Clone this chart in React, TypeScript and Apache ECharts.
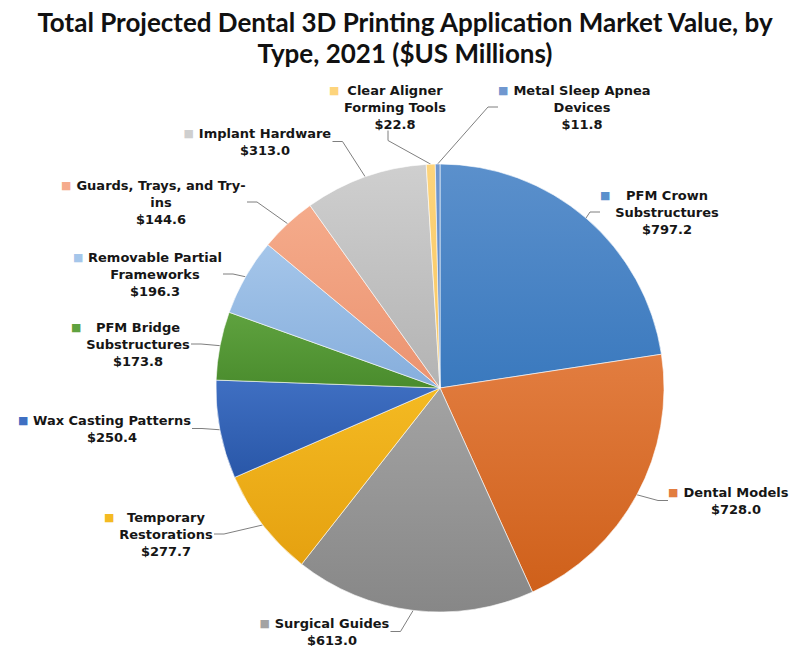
import React, { useEffect, useRef } from 'react';
import * as echarts from 'echarts';

const titleLines = ['Total Projected Dental 3D Printing Application Market Value, by', 'Type, 2021 ($US Millions)'];

const categories = [
  'PFM Crown\nSubstructures',
  'Dental Models',
  'Surgical Guides',
  'Temporary\nRestorations',
  'Wax Casting Patterns',
  'PFM Bridge\nSubstructures',
  'Removable Partial\nFrameworks',
  'Guards, Trays, and Try-\nins',
  'Implant Hardware',
  'Clear Aligner\nForming Tools',
  'Metal Sleep Apnea\nDevices',
];

const values = [797.2, 728.0, 613.0, 277.7, 250.4, 173.8, 196.3, 144.6, 313.0, 22.8, 11.8];

const topColors = ['#5b90cc', '#e27d40', '#a3a3a3', '#f4ba22', '#3f6fc2', '#5fa23f', '#a5c6ea', '#f5ab8b', '#cfcfcf', '#fdd47c', '#7097cf'];
const bottomColors = ['#3a79be', '#cf601a', '#878787', '#e5a110', '#2957a8', '#4a8c2d', '#86aedc', '#eb9370', '#b3b3b3', '#f8c660', '#5c85c2'];

// label anchor: center x of text column, center y of first line
const labelCenters: [number, number][] = [
  [667, 195],
  [736, 492],
  [332, 623],
  [166, 517],
  [112, 420],
  [138, 327],
  [155, 257],
  [161, 185],
  [265, 133],
  [395, 90],
  [582, 90],
];

const FONT_FAMILY = '"DejaVu Sans", Verdana, sans-serif';
const FONT_SIZE = 13;
const LINE_H = 17;
const MARK_W = 14;

function measure(text: string): number {
  const c = document.createElement('canvas');
  const ctx = c.getContext('2d')!;
  ctx.font = `bold ${FONT_SIZE}px ${FONT_FAMILY}`;
  return ctx.measureText(text).width;
}

export default function App() {
  const ref = useRef<HTMLDivElement>(null);
  useEffect(() => {
    if (!ref.current) return;
    const chart = echarts.init(ref.current, null, { renderer: 'svg' });

    const labelLinesArr = categories.map((c, i) => [...c.split('\n'), `$${values[i].toFixed(1)}`]);
    const widths = labelLinesArr.map((ls) => Math.ceil(Math.max(...ls.map(measure))) + 2);

    const rich: Record<string, any> = {
      s: { width: MARK_W, fontSize: 10, lineHeight: LINE_H },
    };
    categories.forEach((_, i) => {
      rich['m' + i] = {
        width: MARK_W,
        align: 'left',
        fontSize: 11,
        color: topColors[i],
        lineHeight: LINE_H,
        fontFamily: FONT_FAMILY,
      };
      rich['t' + i] = {
        width: widths[i],
        align: 'center',
        fontSize: FONT_SIZE,
        fontWeight: 'bold',
        fontFamily: FONT_FAMILY,
        color: '#161616',
        lineHeight: LINE_H,
      };
    });

    const data = categories.map((name, i) => ({
      name,
      value: values[i],
      itemStyle: {
        color: {
          type: 'linear',
          x: 0,
          y: 0,
          x2: 0,
          y2: 1,
          colorStops: [
            { offset: 0, color: topColors[i] },
            { offset: 1, color: bottomColors[i] },
          ],
        },
      },
    }));

    chart.setOption({
      animation: false,
      backgroundColor: '#ffffff',
      graphic: titleLines.map((t, i) => ({
        type: 'text',
        x: 405,
        y: 9 + i * 31,
        style: {
          text: t,
          textAlign: 'center',
          fontFamily: 'Lato, "Open Sans", sans-serif',
          fontWeight: 'bold',
          fontSize: 26,
          fill: '#111111',
        },
      })),
      series: [
        {
          type: 'pie',
          center: [440, 388],
          radius: 224,
          startAngle: 90,
          clockwise: true,
          avoidLabelOverlap: false,
          itemStyle: { borderColor: '#ffffff', borderWidth: 0.6 },
          emphasis: { disabled: true },
          label: {
            show: true,
            position: 'outside',
            align: 'left',
            formatter: (p: any) => {
              const i = p.dataIndex;
              const ls = labelLinesArr[i];
              return ls
                .map((l, k) => (k === 0 ? `{m${i}|■}` : '{s| }') + `{t${i}|${l}}`)
                .join('\n');
            },
            rich,
          },
          labelLine: {
            show: true,
            length: 10,
            length2: 10,
            lineStyle: { color: '#7f7f7f', width: 1 },
          },
          labelLayout: (params: any) => {
            const i = params.dataIndex;
            const [cx, cy] = labelCenters[i];
            return {
              x: cx - widths[i] / 2 - MARK_W,
              y: cy - LINE_H / 2,
              align: 'left',
              verticalAlign: 'top',
            };
          },
          data,
        },
      ],
    });
    return () => chart.dispose();
  }, []);

  return (
    <div
      ref={ref}
      style={{ position: 'fixed', left: 0, top: 0, width: 789, height: 646 }}
    />
  );
}
